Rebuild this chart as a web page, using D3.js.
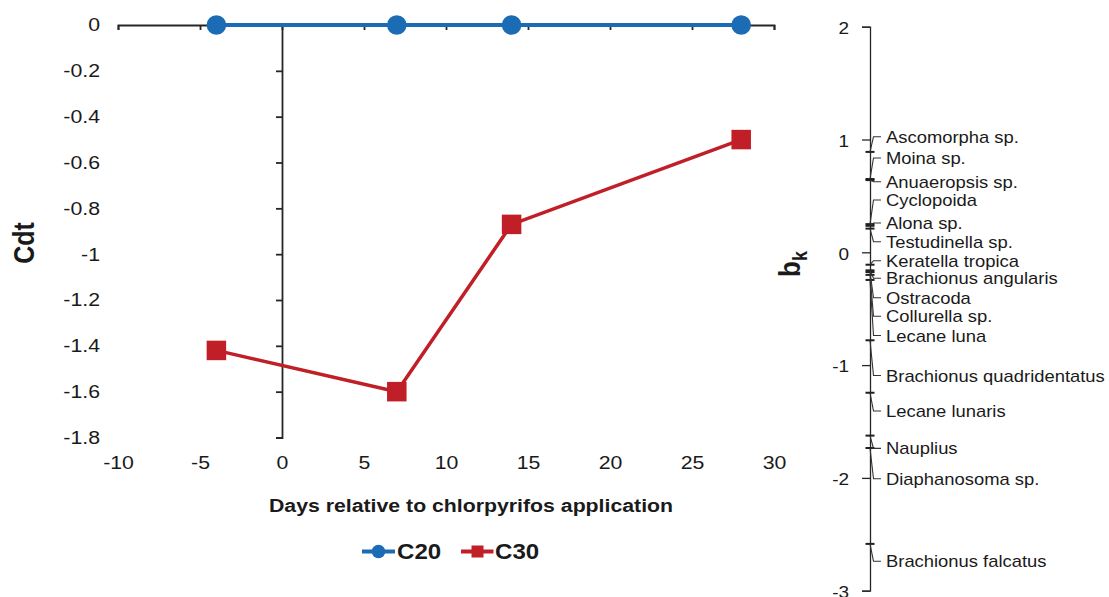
<!DOCTYPE html>
<html>
<head>
<meta charset="utf-8">
<script src="https://cdn.jsdelivr.net/npm/d3@7"></script>
<style>
  html, body { margin: 0; padding: 0; background: #fff; }
  svg { display: block; }
  text { font-family: 'Liberation Sans', Arial, sans-serif; fill: #1a1a1a; }
</style>
</head>
<body>
<svg id="chart" width="1109" height="597"></svg>
<script>
// ---- data ----
const days = [-4, 7, 14, 28];
const c20 = [0, 0, 0, 0];
const c30 = [-1.42, -1.60, -0.87, -0.50];
const xTicks = [-10, -5, 0, 5, 10, 15, 20, 25, 30];
const yTicks = [0, -0.2, -0.4, -0.6, -0.8, -1, -1.2, -1.4, -1.6, -1.8];

const species = [
  "Ascomorpha sp.", "Moina sp.", "Anuaeropsis sp.", "Cyclopoida", "Alona sp.",
  "Testudinella sp.", "Keratella tropica", "Brachionus angularis", "Ostracoda",
  "Collurella sp.", "Lecane luna", "Brachionus quadridentatus", "Lecane lunaris",
  "Nauplius", "Diaphanosoma sp.", "Brachionus falcatus"
];
const speciesWeights = [
  0.89, 0.65, 0.64, 0.25, 0.235, 0.21, -0.11, -0.16, -0.175, -0.20, -0.245,
  -0.78, -1.245, -1.625, -1.735, -2.585
];
const bkTicks = [2, 1, 0, -1, -2, -3];

// label layout along the bk axis (spread so names do not collide)
const labelAt = [
  1.025, 0.836, 0.626, 0.464, 0.260, 0.094, -0.075, -0.230, -0.403, -0.567,
  -0.738, -1.092, -1.407, -1.738, -2.008, -2.739
];

// ---- setup ----
const K = 1.15;            // horizontal widening of glyphs
const AXIS = "#262626";
const BLUE = "#1b6cb5";
const RED = "#c11f27";

const svg = d3.select("#chart");

// widen plain (unrotated) text about its own anchor point
function widen(sel) {
  sel.each(function () {
    const t = d3.select(this);
    const x = +t.attr("x") || 0;
    t.attr("x", x / K).attr("transform", `scale(${K},1)`);
  });
}

const x = d3.scaleLinear([-10, 30], [118, 774]);
const y = d3.scaleLinear([0, -1.8], [25, 437.5]);
const bk = d3.scaleLinear([2, -3], [26.7, 590.7]);

// ---- left panel axes ----
const gx = svg.append("g").attr("transform", `translate(0,${y(0)})`)
  .call(d3.axisBottom(x).tickValues(xTicks).tickSize(5).tickSizeOuter(5).tickFormat(""));
const gy = svg.append("g").attr("transform", `translate(${x(0)},0)`)
  .call(d3.axisLeft(y).tickValues(yTicks).tickSize(6).tickSizeOuter(6).tickFormat(""));
[gx, gy].forEach(g => {
  g.selectAll("path, line").attr("stroke", AXIS).attr("stroke-width", 1.8);
});

// tick labels sit at the low edge of the panel
const fmt = v => (v === 0 ? "0" : String(v));
const gyl = svg.append("g").attr("transform", "translate(100,0)")
  .call(d3.axisLeft(y).tickValues(yTicks).tickSize(0).tickPadding(0).tickFormat(fmt));
gyl.select(".domain").remove();
gyl.selectAll("text").attr("font-size", 18.5).attr("font-family", null).attr("fill", "#1a1a1a");
widen(gyl.selectAll("text"));

const gxl = svg.append("g").attr("transform", "translate(0,456)")
  .call(d3.axisBottom(x).tickValues(xTicks).tickSize(0).tickPadding(0).tickFormat(fmt));
gxl.select(".domain").remove();
gxl.selectAll("text").attr("font-size", 18.5).attr("font-family", null).attr("fill", "#1a1a1a");
widen(gxl.selectAll("text"));

// axis titles
svg.append("g").attr("transform", "translate(471,511.5)")
  .append("text").attr("text-anchor", "middle").attr("font-size", 18.5)
  .attr("font-weight", "bold").attr("transform", `scale(${K},1)`)
  .text("Days relative to chlorpyrifos application");

svg.append("g").attr("transform", `translate(33.5,243) scale(${K},1) rotate(-90)`)
  .append("text").attr("text-anchor", "middle").attr("font-size", 25)
  .attr("font-weight", "bold").text("Cdt");

// ---- series ----
const line = d3.line().x(d => x(d[0])).y(d => y(d[1]));
const s20 = days.map((d, i) => [d, c20[i]]);
const s30 = days.map((d, i) => [d, c30[i]]);

svg.append("path").datum(s30).attr("d", line)
  .attr("fill", "none").attr("stroke", RED).attr("stroke-width", 3.5);
svg.append("path").datum(s20).attr("d", line)
  .attr("fill", "none").attr("stroke", BLUE).attr("stroke-width", 4);

const sq = 19.5;
svg.append("g").selectAll("rect").data(s30).join("rect")
  .attr("x", d => x(d[0]) - sq / 2).attr("y", d => y(d[1]) - sq / 2)
  .attr("width", sq).attr("height", sq).attr("fill", RED);
svg.append("g").selectAll("circle").data(s20).join("circle")
  .attr("cx", d => x(d[0])).attr("cy", d => y(d[1])).attr("r", 9.8).attr("fill", BLUE);

// ---- legend ----
const lg = svg.append("g").attr("transform", "translate(0,551.5)");
lg.append("line").attr("x1", 362).attr("x2", 395).attr("stroke", BLUE).attr("stroke-width", 4);
lg.append("circle").attr("cx", 378.5).attr("r", 6.8).attr("fill", BLUE);
lg.append("g").attr("transform", "translate(397,7.8)")
  .append("text").attr("font-size", 21.5).attr("font-weight", "bold")
  .attr("transform", `scale(${K - 0.03},1)`).text("C20");
lg.append("line").attr("x1", 461).attr("x2", 493.5).attr("stroke", RED).attr("stroke-width", 4);
lg.append("rect").attr("x", 471.5).attr("y", -6).attr("width", 12).attr("height", 12).attr("fill", RED);
lg.append("g").attr("transform", "translate(495,7.8)")
  .append("text").attr("font-size", 21.5).attr("font-weight", "bold")
  .attr("transform", `scale(${K - 0.03},1)`).text("C30");

// ---- species weight axis (bk) ----
const AX = 870;
const gbk = svg.append("g").attr("transform", `translate(${AX},0)`)
  .call(d3.axisLeft(bk).tickValues(bkTicks).tickSize(8).tickSizeOuter(8).tickFormat(""));
gbk.selectAll("path, line").attr("stroke", AXIS).attr("stroke-width", 1.3);

const gbkl = svg.append("g").attr("transform", "translate(849,1.5)")
  .call(d3.axisLeft(bk).tickValues(bkTicks).tickSize(0).tickPadding(0).tickFormat(fmt));
gbkl.select(".domain").remove();
gbkl.selectAll("text").attr("font-size", 16.5).attr("font-family", null).attr("fill", "#1a1a1a");
widen(gbkl.selectAll("text"));

// species ticks
svg.append("g").selectAll("line").data(speciesWeights).join("line")
  .attr("x1", AX - 4.5).attr("x2", AX + 4.5)
  .attr("y1", d => bk(d)).attr("y2", d => bk(d))
  .attr("stroke", "#1f1f1f").attr("stroke-width", 2);

// leader lines from tick to name
svg.append("g").selectAll("path").data(speciesWeights).join("path")
  .attr("d", (d, i) => `M${AX},${bk(d)}L${AX + 3.5},${bk(labelAt[i])}L${AX + 11},${bk(labelAt[i])}`)
  .attr("fill", "none").attr("stroke", "#333").attr("stroke-width", 1.1);

const names = svg.append("g").selectAll("text").data(species).join("text")
  .attr("x", AX + 16).attr("y", (d, i) => bk(labelAt[i])).attr("dy", "0.38em")
  .attr("font-size", 16).text(d => d);
widen(names);

// axis title b_k
const bt = svg.append("g").attr("transform", `translate(800,264) scale(${K},1) rotate(-90)`)
  .append("text").attr("text-anchor", "middle").attr("font-size", 26).attr("font-weight", "bold");
bt.append("tspan").text("b");
bt.append("tspan").attr("font-size", 18).attr("dy", 6).text("k");
</script>
</body>
</html>
